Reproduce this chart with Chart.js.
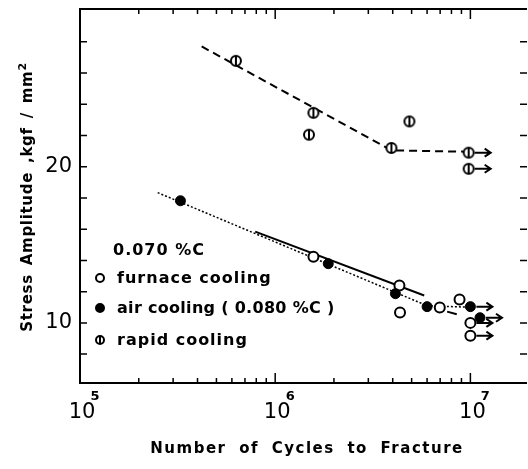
<!DOCTYPE html>
<html>
<head>
<meta charset="utf-8">
<script src="https://cdn.jsdelivr.net/npm/chart.js@4.4.1/dist/chart.umd.min.js"></script>
<style>
  html, body { margin: 0; padding: 0; background: #fff; }
  #wrap { position: relative; width: 528px; height: 469px; overflow: hidden; }
  #chart { position: absolute; left: 0; top: 0; }
  .txt { position: absolute; font-family: "DejaVu Sans", sans-serif; font-weight: bold; color: #000; white-space: nowrap; line-height: 20px; }
  .leg { font-size: 16px; letter-spacing: 1px; }
  .mk { position: absolute; width: 6px; height: 6px; border: 2px solid #000; border-radius: 50%; background: #fff; }
  .mk.fill { background: #000; }
  .mk.bar::after { content: ""; position: absolute; left: 2px; top: -1px; width: 2px; height: 8px; background: #000; }
  #xtitle { left: 0; width: 614px; top: 438px; text-align: center; font-size: 15px; letter-spacing: 1.5px; word-spacing: 6px; }
  #ytitle { left: -125px; width: 300px; top: 185px; text-align: center; font-size: 15px; letter-spacing: 0.7px; word-spacing: 3px; transform: rotate(-90deg); }
  #ytitle sup { font-size: 11px; vertical-align: 6px; }
</style>
</head>
<body>
<div id="wrap">
  <canvas id="chart" width="528" height="469"></canvas>

  <div class="txt leg" style="left:113px; top:240px;">0.070 %C</div>
  <span class="mk" style="left:95px; top:273px;"></span>
  <div class="txt leg" style="left:117px; top:268px;">furnace cooling</div>
  <span class="mk fill" style="left:95px; top:303px;"></span>
  <div class="txt leg" style="left:117px; top:298px; letter-spacing:0.3px;">air cooling ( 0.080 %C )</div>
  <span class="mk bar" style="left:95px; top:335px;"></span>
  <div class="txt leg" style="left:117px; top:330px;">rapid cooling</div>

  <div class="txt" id="xtitle">Number of Cycles to Fracture</div>
  <div class="txt" id="ytitle">Stress Amplitude ,kgf / mm<sup>2</sup></div>
</div>

<script>
// ---- data ----
// furnace cooling (open circles)
const furnaceN = [1.57e6, 4.33e6, 4.36e6, 6.97e6, 8.8e6, 1.0e7, 1.0e7];
const furnaceS = [14.24, 12.39, 10.66, 10.98, 11.49, 10.0, 9.18];
const furnaceRunout = [false, false, false, false, false, true, true];

// air cooling, 0.080 %C (filled circles)
const airN = [3.27e5, 1.87e6, 4.13e6, 6.0e6, 1.0e7, 1.12e7];
const airS = [17.82, 13.79, 11.87, 11.04, 11.04, 10.33];
const airRunout = [false, false, false, false, true, true];

// rapid cooling
const rapidN = [6.29e5, 1.57e6, 1.49e6, 4.87e6, 3.94e6, 9.8e6, 9.8e6];
const rapidS = [26.78, 23.45, 22.05, 22.9, 21.2, 20.9, 19.87];
const rapidRunout = [false, false, false, false, false, true, true];

// S-N curves
const furnaceLineN = [7.9e5, 5.8e6];
const furnaceLineS = [15.84, 11.75];
const furnaceTailN = [7.6e6, 9.0e6];
const furnaceTailS = [10.72, 10.47];
const airLineN = [2.5e5, 6.0e6, 1.0e7];
const airLineS = [18.34, 11.1, 11.0];
const rapidLineN = [4.2e5, 3.94e6, 9.6e6];
const rapidLineS = [27.7, 21.05, 20.96];

// axes
const xDecades = [5, 6, 7];
const yTickLabels = [10, 20];
const yMinorTicks = [8, 10, 12, 14, 16, 18, 20, 22, 24, 26, 28];

const pts = (xs, ys) => xs.map((v, i) => ({ x: v, y: ys[i] }));

// circle with a bar through it, for rapid cooling
function barCircle() {
  const c = document.createElement("canvas");
  c.width = 14; c.height = 14;
  const g = c.getContext("2d");
  g.strokeStyle = "#000"; g.fillStyle = "#fff"; g.lineWidth = 2;
  g.beginPath(); g.arc(7, 7, 5, 0, Math.PI * 2); g.fill(); g.stroke();
  g.beginPath(); g.moveTo(7, 2); g.lineTo(7, 12); g.stroke();
  return c;
}

// inward ticks and open-right frame
const frame = {
  id: "frame",
  afterDraw(chart) {
    const { ctx, chartArea: a, scales: { x, y } } = chart;
    ctx.save();
    ctx.strokeStyle = "#000";
    ctx.lineWidth = 2;
    ctx.beginPath();
    ctx.moveTo(a.right, a.top); ctx.lineTo(a.left, a.top);
    ctx.lineTo(a.left, a.bottom); ctx.lineTo(a.right, a.bottom);
    ctx.stroke();

    ctx.lineWidth = 1.5;
    ctx.beginPath();
    for (const e of xDecades) {
      for (let m = 1; m <= 9; m++) {
        const v = m * Math.pow(10, e);
        if (v > x.max) break;
        const px = x.getPixelForValue(v);
        const len = m === 1 ? 10 : 5;
        ctx.moveTo(px, a.bottom); ctx.lineTo(px, a.bottom - len);
        ctx.moveTo(px, a.top); ctx.lineTo(px, a.top + len);
      }
    }
    for (const v of yMinorTicks) {
      const py = y.getPixelForValue(v);
      ctx.moveTo(a.left, py); ctx.lineTo(a.left + 7, py);
      ctx.moveTo(a.right - 7, py); ctx.lineTo(a.right, py);
    }
    ctx.stroke();

    // x labels: 10 with exponent
    ctx.fillStyle = "#000";
    ctx.textAlign = "center";
    ctx.textBaseline = "alphabetic";
    for (const e of xDecades) {
      const px = x.getPixelForValue(Math.pow(10, e)) + 2;
      ctx.font = "21px 'DejaVu Sans'";
      ctx.fillText("10", px, a.bottom + 35);
      ctx.font = "bold 13px 'DejaVu Sans'";
      ctx.fillText(String(e), px + 13, a.bottom + 17);
    }
    ctx.restore();
  },
};

// run-out arrows
const arrows = {
  id: "arrows",
  afterDatasetsDraw(chart) {
    const { ctx, scales: { x, y } } = chart;
    const sets = [[furnaceN, furnaceS, furnaceRunout], [airN, airS, airRunout], [rapidN, rapidS, rapidRunout]];
    ctx.save();
    ctx.strokeStyle = "#000"; ctx.fillStyle = "#000"; ctx.lineWidth = 2;
    for (const [ns, ss, ro] of sets) {
      ns.forEach((n, i) => {
        if (!ro[i]) return;
        const px = x.getPixelForValue(n), py = y.getPixelForValue(ss[i]);
        ctx.beginPath();
        ctx.moveTo(px + 6, py); ctx.lineTo(px + 21, py);
        ctx.moveTo(px + 16, py - 4); ctx.lineTo(px + 22, py); ctx.lineTo(px + 16, py + 4);
        ctx.stroke();
      });
    }
    ctx.restore();
  },
};

new Chart(document.getElementById("chart"), {
  type: "scatter",
  data: {
    datasets: [
      { label: "air cooling", data: pts(airN, airS), pointStyle: "circle", pointRadius: 5,
        backgroundColor: "#000", borderColor: "#000", borderWidth: 1 },
      { label: "furnace cooling", data: pts(furnaceN, furnaceS), pointStyle: "circle", pointRadius: 5,
        backgroundColor: "#fff", borderColor: "#000", borderWidth: 2 },
      { label: "rapid cooling", data: pts(rapidN, rapidS), pointStyle: barCircle(), pointRadius: 6 },
      { data: pts(furnaceLineN, furnaceLineS), showLine: true, pointRadius: 0,
        borderColor: "#000", borderWidth: 2 },
      { data: pts(furnaceTailN, furnaceTailS), showLine: true, pointRadius: 0,
        borderColor: "#000", borderWidth: 2, borderDash: [10, 6] },
      { data: pts(airLineN, airLineS), showLine: true, pointRadius: 0,
        borderColor: "#000", borderWidth: 1.5, borderDash: [2, 2] },
      { data: pts(rapidLineN, rapidLineS), showLine: true, pointRadius: 0,
        borderColor: "#000", borderWidth: 2, borderDash: [8, 5] },
    ],
  },
  options: {
    responsive: false,
    animation: false,
    layout: { autoPadding: false, padding: { top: 9, right: 1, left: 0, bottom: 0 } },
    plugins: { legend: { display: false }, tooltip: { enabled: false } },
    scales: {
      x: {
        type: "logarithmic",
        min: 1e5,
        max: 1.95e7,
        grid: { display: false, drawTicks: false },
        border: { display: false },
        ticks: { display: false },
        afterFit: (s) => { s.height = 86; s.paddingLeft = 0; s.paddingRight = 0; },
      },
      y: {
        type: "linear",
        min: 6.15,
        max: 30.1,
        grid: { display: false, drawTicks: false },
        border: { display: false },
        ticks: {
          stepSize: 2,
          autoSkip: false,
          padding: 8,
          color: "#000",
          font: { family: "DejaVu Sans", size: 21 },
          callback: (v) => (yTickLabels.includes(v) ? String(v) : ""),
        },
        afterFit: (s) => { s.width = 80; s.paddingTop = 0; s.paddingBottom = 0; },
      },
    },
  },
  plugins: [frame, arrows],
});
</script>
</body>
</html>
